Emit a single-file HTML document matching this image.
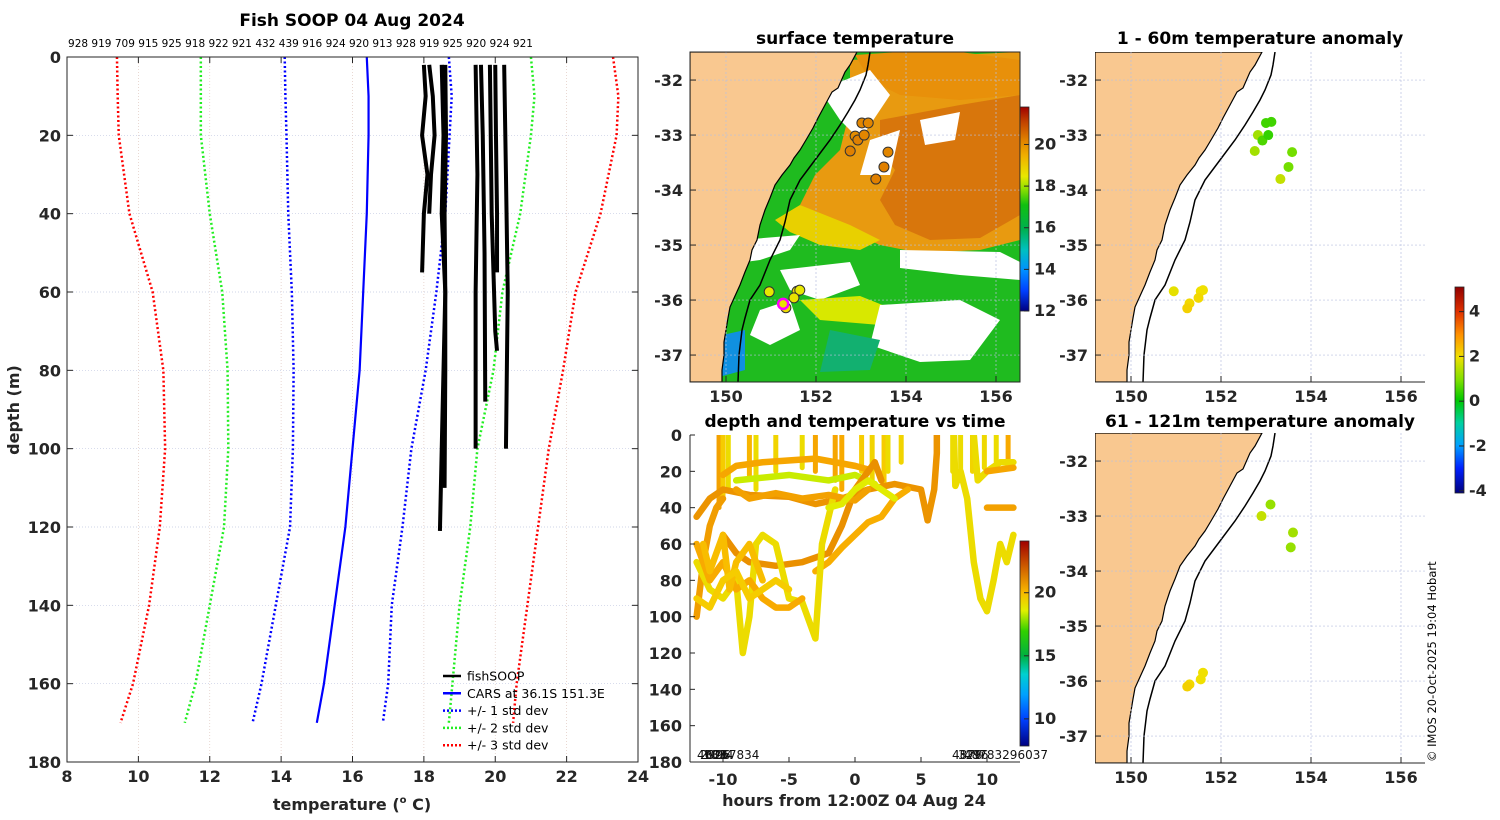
<!DOCTYPE html>
<html><head><meta charset="utf-8"><style>
html,body{margin:0;padding:0;background:#fff;width:1500px;height:820px;overflow:hidden}
svg{font-family:"DejaVu Sans","Liberation Sans",sans-serif}
.t{font-weight:bold;font-size:16px;fill:#262626}
.ti{font-weight:bold;font-size:17px;fill:#000}
</style></head><body>
<svg id="fig" width="1500" height="820" viewBox="0 0 1500 820" xmlns="http://www.w3.org/2000/svg">
<defs>
<linearGradient id="gsst" x1="0" y1="1" x2="0" y2="0">
<stop offset="0" stop-color="#000080"/><stop offset="0.1" stop-color="#0040ff"/><stop offset="0.2" stop-color="#0090ff"/><stop offset="0.3" stop-color="#00c0c0"/><stop offset="0.4" stop-color="#00b050"/><stop offset="0.52" stop-color="#10c010"/><stop offset="0.6" stop-color="#90e000"/><stop offset="0.66" stop-color="#e8e800"/><stop offset="0.76" stop-color="#f0b000"/><stop offset="0.84" stop-color="#e08000"/><stop offset="0.93" stop-color="#c04000"/><stop offset="1" stop-color="#a00000"/>
</linearGradient>
<linearGradient id="gdt" x1="0" y1="1" x2="0" y2="0">
<stop offset="0" stop-color="#000080"/><stop offset="0.13" stop-color="#0040ff"/><stop offset="0.25" stop-color="#00a0ff"/><stop offset="0.35" stop-color="#00d0d0"/><stop offset="0.44" stop-color="#00b040"/><stop offset="0.56" stop-color="#30d000"/><stop offset="0.66" stop-color="#e0f000"/><stop offset="0.75" stop-color="#f8b800"/><stop offset="0.87" stop-color="#d06000"/><stop offset="1" stop-color="#a00000"/>
</linearGradient>
<linearGradient id="gan" x1="0" y1="1" x2="0" y2="0">
<stop offset="0" stop-color="#00007f"/><stop offset="0.12" stop-color="#0020ff"/><stop offset="0.23" stop-color="#00a0ff"/><stop offset="0.34" stop-color="#00d0a0"/><stop offset="0.45" stop-color="#00c800"/><stop offset="0.55" stop-color="#80e000"/><stop offset="0.66" stop-color="#f0e000"/><stop offset="0.77" stop-color="#ff9000"/><stop offset="0.88" stop-color="#e03000"/><stop offset="1" stop-color="#900000"/>
</linearGradient>
<clipPath id="cm1"><rect x="690" y="52" width="330" height="330"/></clipPath>
<clipPath id="cm2"><rect x="1095" y="52" width="330" height="330"/></clipPath>
<clipPath id="cm3"><rect x="1095" y="433" width="330" height="330"/></clipPath>
<clipPath id="cdt"><rect x="690" y="435" width="330" height="327"/></clipPath>
</defs>
<g id="root"></g>
</svg>
<script>
// ---------- profile chart data ----------
const depthTicks=[0,20,40,60,80,100,120,140,160,180];
const tempTicks=[8,10,12,14,16,18,20,22,24];
const profDepths=[0,10,20,40,60,80,100,120,140,160,170];
const red1=[9.4,9.42,9.45,9.75,10.4,10.7,10.75,10.6,10.3,9.85,9.5];
const green1=[11.75,11.75,11.75,12.0,12.35,12.5,12.52,12.4,12.0,11.6,11.3];
const blue1=[14.1,14.12,14.15,14.2,14.3,14.35,14.33,14.25,13.85,13.45,13.2];
const cars=[16.4,16.45,16.45,16.4,16.3,16.2,16.0,15.8,15.5,15.2,15.0];
const blue2=[18.7,18.78,18.72,18.6,18.35,18.05,17.65,17.4,17.1,17.0,16.85];
const green2=[21.0,21.1,21.0,20.7,20.2,19.95,19.5,19.3,19.0,18.8,18.7];
const red2=[23.3,23.45,23.4,22.95,22.25,21.9,21.5,21.2,20.9,20.6,20.5];
const fishDepths=[[2,10,20,30,40,55],[2,10,20,30,40],[2,20,40,60,80,100,121],[2,20,40,60,80,110],[2,30,60,100],[2,20,50,88],[2,40,70,75],[2,20,40,55],[2,30,60,100]];
const fishTemps=[[18.0,18.05,17.95,18.1,18.0,17.95],[18.15,18.25,18.3,18.2,18.15],[18.5,18.55,18.5,18.6,18.55,18.5,18.45],[18.6,18.62,18.58,18.6,18.6,18.58],[19.45,19.5,19.45,19.45],[19.6,19.65,19.7,19.72],[19.85,19.9,20.0,20.05],[20.0,20.02,20.05,20.05],[20.25,20.3,20.35,20.3]];
const castIds="928 919 709 915 925 918 922 921 432 439 916 924 920 913 928 919 925 920 924 921";

// ---------- map data ----------
const sstTicks=[12,14,16,18,20];
const lonTicks=[150,152,154,156];
const latTicks=[-32,-33,-34,-35,-36,-37];
const sstLon=[153.02,153.16,152.87,152.93,153.07,152.76,153.6,153.51,153.33,150.96,151.58,151.64,151.51,151.33,151.27];
const sstLat=[-32.78,-32.78,-33.02,-33.09,-33.0,-33.29,-33.31,-33.58,-33.8,-35.85,-35.84,-35.82,-35.96,-36.14,-36.07];
const sstVal=[20.2,20.2,20.1,20.3,20.2,20.3,20.2,20.3,20.3,18.6,18.7,18.6,18.7,18.8,18.7];
const an1Lon=[153.0,153.12,152.82,152.92,153.05,152.75,153.58,153.5,153.32,150.95,151.6,151.55,151.5,151.3,151.25];
const an1Lat=[-32.78,-32.76,-33.0,-33.1,-33.0,-33.29,-33.31,-33.58,-33.8,-35.84,-35.82,-35.84,-35.96,-36.06,-36.15];
const an1Val=[0.5,0.5,1.3,0.6,0.4,1.3,0.9,0.9,1.6,1.9,2.0,2.0,2.1,2.1,2.2];
const an2Lon=[153.1,152.9,153.6,153.55,151.3,151.25,151.6,151.55];
const an2Lat=[-32.79,-33.0,-33.3,-33.57,-36.06,-36.1,-35.85,-35.97];
const an2Val=[1.2,1.6,1.3,1.2,2.1,2.2,2.0,2.0];
const anTicks=[-4,-2,0,2,4];

// ---------- depth/time data ----------
const dtHourTicks=[-10,-5,0,5,10];
const dtDepthTicks=[0,20,40,60,80,100,120,140,160,180];
const dtColorTicks=[10,15,20];
const trackHours=[
[-12,-11,-10,-8,-5,-3,-1,1,3,5,5.5,6,6.2,6.2],
[-10,-9,-7,-3,0,1],
[-9,-5,-2,0,1.5],
[-12,-11.5,-11,-10.5,-10],
[-10,-9,-8,-6,-4,-2,-1,0,1,1.5,2],
[-3,-2,-1,0,1,2,3,4],
[-12,-11,-10,-9,-8.5,-8,-7.5,-7,-6,-5,-4,-3,-2.5,-2,-1.5],
[-12,-11,-10,-9,-8,-7,-6,-5,-4],
[7.5,7.6,8,8.5,9,9.5,10,10.5,11,11.5,12],
[9,9.3,10,11,12],
[10,12],[10,12],
[-11.5,-11,-10,-9.5,-9,-8,-7],
[-12,-11,-10,-9,-8,-7,-6,-5],
[-9,-8,-6,-4,-2,0,1],
[-2,-1,0,1,2,3]
];
const trackDepths=[
[45,35,30,33,34,38,35,30,27,30,47,30,10,0],
[22,17,15,13,17,19],
[25,22,25,22,27],
[100,70,50,40,35],
[55,65,70,72,70,65,50,30,20,15,25],
[75,70,62,55,48,45,35,30],
[70,85,90,80,120,100,60,55,60,90,92,112,60,45,30],
[60,80,70,85,80,90,95,95,90],
[0,28,20,35,70,90,97,80,60,70,55],
[0,25,20,15,15],
[20,18],[40,40],
[60,75,55,85,70,60,80],
[90,95,80,75,90,85,80,85],
[30,35,32,35,33,36,30],
[40,38,30,25,30,35]
];
const trackTemps=[20.8,20.4,18.3,20.6,20.9,20.2,19.0,20.3,19.0,19.0,20.4,20.5,19.8,19.4,20.5,18.6];
const spikeHours=[-10.3,-10,-9.6,-8,-7.5,-6,-4,-3,-1.5,-1,0.5,1.3,2.2,2.5,3.5,7.4,8,8.9,9.8,10.7,11.6];
const spikeBottoms=[40,35,30,22,30,20,18,20,25,30,20,25,30,20,15,20,25,20,18,15,15];
const spikeTemps=[20.5,19.4,19.0,20.0,19.0,19.2,19.0,20.4,20.4,20.3,19.4,19.2,19.4,19.0,19.2,19.0,19.0,19.2,19.1,19.0,20.3];

const NS="http://www.w3.org/2000/svg";
const root=document.getElementById('root');
function el(tag,attrs,parent,txt){const e=document.createElementNS(NS,tag);for(const k in attrs)e.setAttribute(k,attrs[k]);if(txt!==undefined)e.textContent=txt;(parent||root).appendChild(e);return e;}
function interp(stops,v){
  if(v<=stops[0][0])return stops[0][1];
  for(let i=1;i<stops.length;i++){if(v<=stops[i][0]){const a=stops[i-1],b=stops[i];const t=(v-a[0])/(b[0]-a[0]);return a[1].map((c,j)=>Math.round(c+(b[1][j]-c)*t));}}
  return stops[stops.length-1][1];
}
function rgb(c){return 'rgb('+c.join(',')+')';}
const sstStops=[[12,[0,0,128]],[14,[0,144,255]],[16,[0,176,80]],[17,[16,192,16]],[18,[200,232,0]],[18.6,[232,232,0]],[19.5,[240,176,0]],[20.3,[224,128,0]],[21.8,[160,0,0]]];
const dtStops=[[7.85,[0,0,128]],[12,[0,160,255]],[15,[0,176,64]],[17,[48,208,0]],[18.5,[224,240,0]],[19.5,[248,200,0]],[20.3,[248,170,0]],[22,[208,96,0]],[24.1,[160,0,0]]];
const anStops=[[-4.1,[0,0,127]],[-2,[0,160,255]],[0,[0,200,0]],[1,[128,224,0]],[2,[240,224,0]],[3,[255,144,0]],[4,[224,48,0]],[5.1,[144,0,0]]];

// ================= LEFT PROFILE CHART =================
const L={x0:67,x1:638,y0:57,y1:762};
const tx=t=>L.x0+(t-8)/(24-8)*(L.x1-L.x0);
const dy=d=>L.y0+d/180*(L.y1-L.y0);
const gP=el('g',{});


el('text',{x:352,y:26,'text-anchor':'middle',class:'ti'},gP,'Fish SOOP 04 Aug 2024');
const ids=el('text',{x:68,y:47,'font-size':'10.5',fill:'#000',textLength:'465',lengthAdjust:'spacingAndGlyphs'},gP,castIds);

depthTicks.forEach(d=>{if(d>0&&d<180)el('line',{x1:L.x0,x2:L.x1,y1:dy(d),y2:dy(d),stroke:'#c0c8e0','stroke-width':0.7,'stroke-dasharray':'1,2'},gP);});
tempTicks.forEach(t=>{if(t>8&&t<24)el('line',{x1:tx(t),x2:tx(t),y1:L.y0,y2:L.y1,stroke:'#e0c8c0','stroke-width':0.7,'stroke-dasharray':'1,2'},gP);});
function profLine(arr,color,dash,w,name){const pts=arr.map((t,i)=>tx(t)+','+dy(profDepths[i])).join(' ');const p=el('polyline',{points:pts,fill:'none',stroke:color,'stroke-width':w,'stroke-dasharray':dash},gP);}
profLine(red1,'#ff0000','2,2.5',2.5,'minus-3-std-line');
profLine(green1,'#22ee22','2,2.5',2.5,'minus-2-std-line');
profLine(blue1,'#0000ff','2,2.5',2.5,'minus-1-std-line');
profLine(cars,'#0000ff','',2.2,'cars-climatology-line');
profLine(blue2,'#0000ff','2,2.5',2.5,'plus-1-std-line');
profLine(green2,'#22ee22','2,2.5',2.5,'plus-2-std-line');
profLine(red2,'#ff0000','2,2.5',2.5,'plus-3-std-line');
fishTemps.forEach((arr,k)=>{const pts=arr.map((t,i)=>tx(t)+','+dy(fishDepths[k][i])).join(' ');const p=el('polyline',{points:pts,fill:'none',stroke:'#000','stroke-width':4,'stroke-linejoin':'round'},gP);});
el('rect',{x:L.x0,y:L.y0,width:L.x1-L.x0,height:L.y1-L.y0,fill:'none',stroke:'#262626','stroke-width':1},gP);
depthTicks.forEach(d=>{el('line',{x1:L.x0,x2:L.x0+6,y1:dy(d),y2:dy(d),stroke:'#262626'},gP);el('line',{x1:L.x1,x2:L.x1-6,y1:dy(d),y2:dy(d),stroke:'#262626'},gP);const t=el('text',{x:L.x0-6,y:dy(d)+6,'text-anchor':'end',class:'t'},gP,String(d));});
tempTicks.forEach(v=>{el('line',{x1:tx(v),x2:tx(v),y1:L.y1,y2:L.y1-6,stroke:'#262626'},gP);el('line',{x1:tx(v),x2:tx(v),y1:L.y0,y2:L.y0+6,stroke:'#262626'},gP);const t=el('text',{x:tx(v),y:L.y1+20,'text-anchor':'middle',class:'t'},gP,String(v));});
const yl=el('text',{x:0,y:0,transform:'translate(19,410) rotate(-90)','text-anchor':'middle',class:'t','font-size':'17'},gP,'depth (m)');
const xl=el('text',{x:352,y:810,'text-anchor':'middle',class:'t','font-size':'17'},gP);
xl.innerHTML='temperature (<tspan font-size="10" dy="-7">o</tspan><tspan dy="7"> C)</tspan>';
const lg=el('g',{},gP);
const legItems=[['fishSOOP','#000',''],['CARS at 36.1S 151.3E','#0000ff',''],['+/- 1 std dev','#0000ff','2,2'],['+/- 2 std dev','#22ee22','2,2'],['+/- 3 std dev','#ff0000','2,2']];
legItems.forEach((it,i)=>{const y=676+i*17.3;const ge=el('g',{},lg);el('line',{x1:443,x2:461,y1:y,y2:y,stroke:it[1],'stroke-width':2.5,'stroke-dasharray':it[2]},ge);el('text',{x:467,y:y+4.5,'font-size':'12.5',fill:'#000'},ge,it[0]);});

// ================= MAPS =================
const coastPx=[[857,52],[850,65],[845,72],[838,88],[832,92],[825,105],[818,118],[813,128],[806,140],[800,150],[794,158],[790,165],[782,175],[775,185],[770,198],[765,210],[760,225],[757,240],[752,250],[750,260],[745,272],[740,285],[735,296],[730,307],[728,318],[726,330],[724,342],[724,355],[722,370],[722,382]];
const isoPx=[[870,52],[868,65],[866,75],[860,90],[855,100],[848,112],[840,125],[830,140],[815,160],[800,180],[790,200],[785,222],[780,240],[770,260],[760,285],[750,300],[745,318],[742,330],[739,355],[738,382]];
function mapBase(ox,oy,clip,name,withSST){
  const g=el('g',{});
  const dx=ox-690,dyy=oy-52;
  const mx=lon=>ox+(lon-149.2)*45, my=lat=>oy+(-31.49-lat)*55;
  const inner=el('g',{'clip-path':'url(#'+clip+')'},g);
  el('rect',{x:ox,y:oy,width:330,height:330,fill:'#fff'},inner);
  if(withSST){
    const P=(pts,fill,nm)=>{const p=el('polygon',{points:pts.map(p=>(p[0]+dx)+','+(p[1]+dyy)).join(' '),fill:fill},inner);};
    P([[690,382],[690,52],[1020,52],[1020,382]],'#1fbb1f','sst-field-green');
    P([[850,60],[1020,52],[1020,240],[980,250],[920,253],[880,245],[850,232],[820,215],[800,205],[815,175],[840,150],[850,110]],'#e89a10','sst-field-orange');
    P([[880,120],[960,105],[1020,95],[1020,215],[980,238],[930,240],[895,225],[880,200],[895,170],[880,150]],'#d8760c','sst-field-warm-core');
    P([[855,55],[900,52],[960,52],[1020,60],[1020,95],[960,100],[900,95],[870,80]],'#e8900a','sst-field-north');
    P([[800,205],[850,225],[880,240],[860,250],[820,245],[790,232],[775,220]],'#e8d000','sst-field-front');
    P([[820,90],[870,70],[890,95],[860,140],[840,120]],'#ffffff','sst-gap');
    P([[870,140],[900,130],[890,175],[860,175]],'#ffffff','sst-gap');
    P([[740,240],[800,235],[790,250],[760,260],[745,262]],'#ffffff','sst-gap');
    P([[780,270],[850,262],[860,285],[820,300],[790,290]],'#ffffff','sst-gap');
    P([[800,300],[860,296],[900,312],[880,325],[820,320]],'#d8e800','sst-field-yellow');
    P([[760,310],[790,300],[800,330],[770,345],[750,335]],'#ffffff','sst-gap');
    P([[880,305],[960,300],[1000,320],[970,360],[920,362],[870,345]],'#ffffff','sst-gap');
    P([[900,250],[1000,252],[1020,262],[1020,280],[960,275],[900,268]],'#ffffff','sst-gap');
    P([[830,330],[880,340],[870,370],[820,372]],'#12b070','sst-field-cool');
    P([[920,120],[960,112],[955,140],[925,145]],'#ffffff','sst-gap');
    P([[700,340],[745,330],[745,370],[700,382]],'#1090e0','sst-field-cold-coast');
  }
  const land=[[ox,oy]].concat(coastPx.map(p=>[p[0]+dx,p[1]+dyy])).concat([[ox,oy+330]]);
  const lp=el('polygon',{points:land.map(p=>p.join(',')).join(' '),fill:'#f9c890',stroke:'#000','stroke-width':1.2},inner);
  
  const iso=el('polyline',{points:isoPx.map(p=>(p[0]+dx)+','+(p[1]+dyy)).join(' '),fill:'none',stroke:'#000','stroke-width':1.5},inner);
  
  lonTicks.forEach(l=>{el('line',{x1:mx(l),x2:mx(l),y1:oy,y2:oy+330,stroke:'#b8c0e0','stroke-width':0.7,'stroke-dasharray':'2,2'},inner);});
  latTicks.forEach(l=>{el('line',{x1:ox,x2:ox+330,y1:my(l),y2:my(l),stroke:'#b8c0e0','stroke-width':0.7,'stroke-dasharray':'2,2'},inner);});
  el('line',{x1:ox,x2:ox+330,y1:oy+330,y2:oy+330,stroke:'#262626'},g);
  if(withSST)el('rect',{x:ox,y:oy,width:330,height:330,fill:'none',stroke:'#262626'},g);
  lonTicks.forEach(l=>{el('line',{x1:mx(l),x2:mx(l),y1:oy+330,y2:oy+324,stroke:'#262626'},g);const t=el('text',{x:mx(l),y:oy+350,'text-anchor':'middle',class:'t'},g,String(l));});
  latTicks.forEach(l=>{el('line',{x1:ox,x2:ox+6,y1:my(l),y2:my(l),stroke:'#262626'},g);const t=el('text',{x:ox-7,y:my(l)+6,'text-anchor':'end',class:'t'},g,String(l));});
  return {g,mx,my};
}
function dots(m,lons,lats,vals,stops,stroke,r,name){lons.forEach((lo,i)=>{const c=el('circle',{cx:m.mx(lo),cy:m.my(lats[i]),r:r,fill:rgb(interp(stops,vals[i])),stroke:stroke,'stroke-width':stroke==='none'?0:1},m.g);});}

const m1=mapBase(690,52,'cm1','sst-map',true);
el('text',{x:855,y:44,'text-anchor':'middle',class:'ti'},m1.g,'surface temperature');
dots(m1,sstLon,sstLat,sstVal,sstStops,'#333',5,'cast-marker');
const mag=el('circle',{cx:m1.mx(151.27),cy:m1.my(-36.07),r:5,fill:'none',stroke:'#ff00ff','stroke-width':2.5},m1.g);

function colorbar(x,y0,y1,grad,vmin,vmax,ticks,g,name){const cb=el('g',{},g);el('rect',{x:x,y:y0,width:9,height:y1-y0,fill:'url(#'+grad+')',stroke:'#262626','stroke-width':0.8},cb);ticks.forEach(v=>{const y=y1-(v-vmin)/(vmax-vmin)*(y1-y0);el('line',{x1:x+9,x2:x+4,y1:y,y2:y,stroke:'#262626'},cb);el('text',{x:x+14,y:y+5,class:'t','font-size':'13'},cb,String(v));});}
colorbar(1020,107,311,'gsst',12,21.8,sstTicks,m1.g,'sst-colorbar');

const m2=mapBase(1095,52,'cm2','anomaly-map-1-60m',false);
el('text',{x:1260,y:44,'text-anchor':'middle',class:'ti'},m2.g,'1 - 60m temperature anomaly');
dots(m2,an1Lon,an1Lat,an1Val,anStops,'none',5,'anomaly-dot');
const m3=mapBase(1095,433,'cm3','anomaly-map-61-121m',false);
el('text',{x:1260,y:427,'text-anchor':'middle',class:'ti'},m3.g,'61 - 121m temperature anomaly');
dots(m3,an2Lon,an2Lat,an2Val,anStops,'none',5,'anomaly-dot');
colorbar(1455,287,493,'gan',-4.1,5.1,anTicks,root,'anomaly-colorbar');

// ================= DEPTH vs TIME =================
const D={x0:690,x1:1020,y0:435,y1:762};
const hx=h=>D.x0+(h+12.5)/25*(D.x1-D.x0);
const ddy=d=>D.y0+d/180*(D.y1-D.y0);
const gD=el('g',{});
el('text',{x:855,y:427,'text-anchor':'middle',class:'ti'},gD,'depth and temperature vs time');
const inD=el('g',{'clip-path':'url(#cdt)'},gD);
spikeHours.forEach((h,i)=>{const l=el('line',{x1:hx(h),x2:hx(h),y1:ddy(0),y2:ddy(spikeBottoms[i]),stroke:rgb(interp(dtStops,spikeTemps[i])),'stroke-width':5,'stroke-linecap':'round'},inD);});
trackHours.forEach((hs,k)=>{const pts=hs.map((h,i)=>hx(h)+','+ddy(trackDepths[k][i])).join(' ');const p=el('polyline',{points:pts,fill:'none',stroke:rgb(interp(dtStops,trackTemps[k])),'stroke-width':6.5,'stroke-linejoin':'round','stroke-linecap':'round'},inD);});
el('line',{x1:D.x0,x2:D.x0,y1:D.y0,y2:D.y1,stroke:'#262626'},gD);
el('line',{x1:D.x0,x2:D.x1,y1:D.y1,y2:D.y1,stroke:'#262626'},gD);
dtDepthTicks.forEach(d=>{el('line',{x1:D.x0,x2:D.x0+5,y1:ddy(d),y2:ddy(d),stroke:'#262626'},gD);const t=el('text',{x:D.x0-8,y:ddy(d)+6,'text-anchor':'end',class:'t'},gD,String(d));});
dtHourTicks.forEach(h=>{el('line',{x1:hx(h),x2:hx(h),y1:D.y1,y2:D.y1-5,stroke:'#262626'},gD);const t=el('text',{x:hx(h),y:D.y1+23,'text-anchor':'middle',class:'t'},gD,String(h));});
el('text',{x:854,y:806,'text-anchor':'middle',class:'t','font-size':'17'},gD,'hours from 12:00Z 04 Aug 24');
['4008','2996','1834','6267834'].forEach((s,i)=>el('text',{x:697+i*3,y:759,'font-size':'12',fill:'#111'},gD,s));
['4878','3296','48783296037'].forEach((s,i)=>el('text',{x:952+i*6,y:759,'font-size':'12',fill:'#111'},gD,s));
colorbar(1020,541,746,'gdt',7.85,24.1,dtColorTicks,gD,'dt-colorbar');

const cr=el('text',{x:0,y:0,transform:'translate(1436,762) rotate(-90)','font-size':'11.5',fill:'#000'},root,'© IMOS 20-Oct-2025 19:04 Hobart');

</script>
</body></html>
